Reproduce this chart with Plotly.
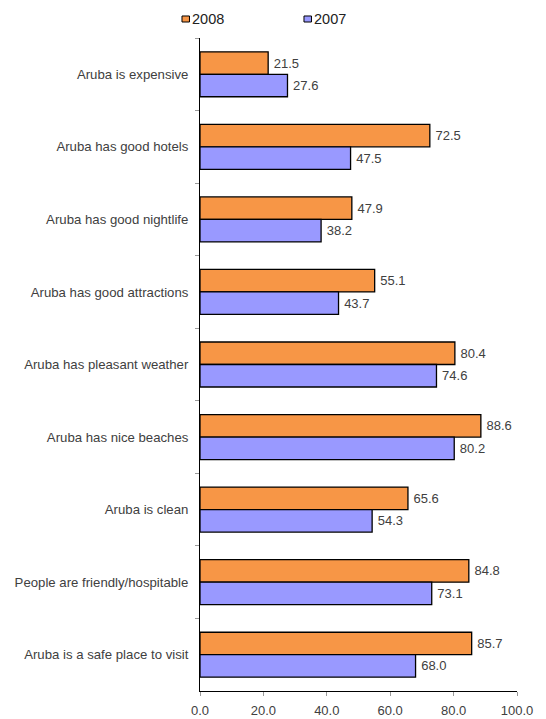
import plotly.graph_objects as go

# Survey statements, listed top to bottom
statements = [
    "Aruba is expensive",
    "Aruba has good hotels",
    "Aruba has good nightlife",
    "Aruba has good attractions",
    "Aruba has pleasant weather",
    "Aruba has nice beaches",
    "Aruba is clean",
    "People are friendly/hospitable",
    "Aruba is a safe place to visit",
]
pct_2008 = [21.5, 72.5, 47.9, 55.1, 80.4, 88.6, 65.6, 84.8, 85.7]
pct_2007 = [27.6, 47.5, 38.2, 43.7, 74.6, 80.2, 54.3, 73.1, 68.0]
x_ticks = [0, 20, 40, 60, 80, 100]

FONT = "Arial, Liberation Sans, sans-serif"
TEXT_COLOR = "#404040"
ORANGE = "#F79646"
LAVENDER = "#9999FF"

fig = go.Figure()
for name, vals, color in [("2008", pct_2008, ORANGE), ("2007", pct_2007, LAVENDER)]:
    fig.add_trace(go.Bar(
        name=name,
        y=statements,
        x=vals,
        orientation="h",
        marker=dict(color=color, line=dict(color="black", width=1.3)),
        text=["\u2009" + f"{v:.1f}" for v in vals],
        textposition="outside",
        textfont=dict(family=FONT, size=13, color=TEXT_COLOR),
        cliponaxis=False,
        showlegend=False,
    ))

# Legend drawn as small boxed swatches with labels above the plot
legend_items = [("2008", ORANGE, -0.0568), ("2007", LAVENDER, 0.328)]
for label, color, x0 in legend_items:
    fig.add_shape(type="rect", xref="paper", yref="paper",
                  x0=x0, x1=x0 + 0.0236, y0=1.0245, y1=1.0337,
                  fillcolor=color, line=dict(color="black", width=1))
    fig.add_annotation(xref="paper", yref="paper", x=x0 + 0.0266, y=1.0285,
                       xanchor="left", yanchor="middle", showarrow=False,
                       text=label, font=dict(family=FONT, size=14.5, color="#222222"))

fig.update_layout(
    width=546, height=719,
    margin=dict(l=200, r=29, t=38, b=28),
    barmode="group",
    bargap=0.38,
    bargroupgap=0,
    plot_bgcolor="white",
    paper_bgcolor="white",
    font=dict(family=FONT, size=12, color=TEXT_COLOR),
)
fig.update_xaxes(
    range=[0, 100],
    tickvals=x_ticks,
    ticktext=[f"{t:.1f}" for t in x_ticks],
    tickfont=dict(family=FONT, size=13, color=TEXT_COLOR),
    showgrid=False, zeroline=False,
    showline=True, linecolor="black", linewidth=1,
    ticks="outside", ticklen=4, tickcolor="#999999",
    ticklabelstandoff=3,
    automargin=False,
)
fig.update_yaxes(
    autorange="reversed",
    categoryorder="array", categoryarray=statements,
    tickfont=dict(family=FONT, size=13.2, color=TEXT_COLOR),
    showgrid=False, zeroline=False,
    showline=True, linecolor="black", linewidth=1,
    ticks="outside", ticklen=4, tickcolor="#999999", tickson="boundaries",
    ticklabelstandoff=8,
    automargin=False,
)

fig.write_html("out.html")
